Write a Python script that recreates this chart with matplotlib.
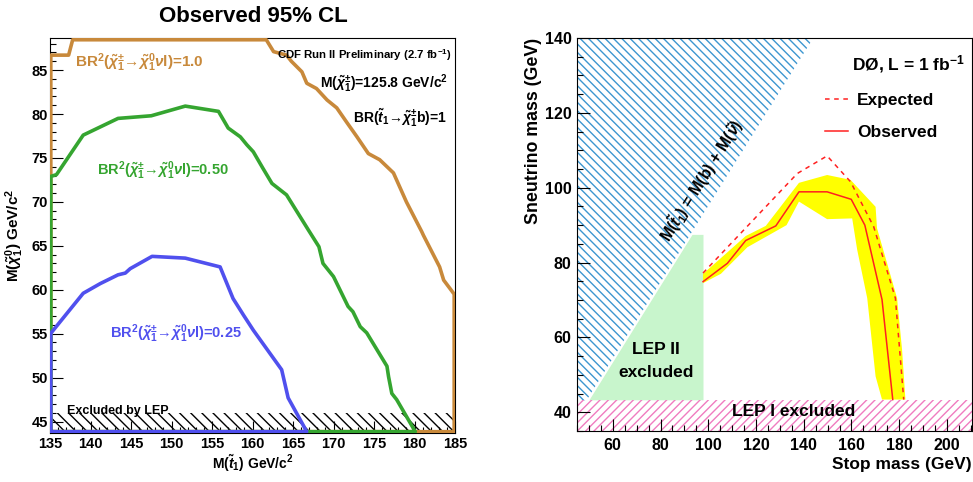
import numpy as np
import matplotlib.pyplot as plt
from matplotlib.ticker import MultipleLocator

# ---- left panel: CDF observed 95% CL contours, M(stop) vs M(chi0)
br100_x = [135.1, 135.1, 137.3, 137.8, 161.7, 162.6, 164.2, 164.8, 166.1, 166.7, 167.9, 169.2, 170.4,
           171.6, 172.9, 174.3, 175.7, 177.4, 179.0, 180.9, 181.1, 183.1, 183.6, 184.9, 184.9, 135.1]
br100_y = [43.85, 86.7, 86.7, 88.45, 88.45, 87.1, 86.7, 86.0, 84.8, 83.5, 82.9, 81.6, 80.7,
           79.1, 77.4, 75.5, 74.8, 73.3, 70.0, 66.6, 66.2, 62.6, 61.1, 59.5, 43.85, 43.85]
br050_x = [135.1, 135.1, 135.8, 139.1, 143.4, 147.5, 151.7, 155.8, 157.0, 158.5, 159.3, 160.1, 161.3,
           162.4, 164.2, 166.9, 168.2, 168.7, 170.0, 171.8, 172.4, 173.3, 174.1, 176.6, 176.8, 177.2,
           177.8, 180.1, 135.1]
br050_y = [43.85, 72.9, 73.1, 77.6, 79.5, 79.8, 80.9, 80.3, 78.4, 77.4, 76.5, 75.7, 73.8,
           72.1, 70.8, 66.8, 64.9, 63.0, 61.5, 58.1, 57.5, 55.8, 55.1, 51.3, 50.1, 48.2,
           47.5, 43.85, 43.85]
br025_x = [135.1, 135.1, 139.1, 141.2, 143.4, 144.3, 144.9, 147.6, 151.7, 156.0, 157.6, 158.9, 160.1,
           163.6, 164.4, 166.7, 135.1]
br025_y = [43.85, 55.05, 59.6, 60.7, 61.7, 61.9, 62.4, 63.8, 63.6, 62.6, 59.0, 57.1, 55.4,
           50.9, 47.7, 43.85, 43.85]
lep_chi0 = 46.0

# ---- right panel: D0 stop -> b l sneutrino
obs_x = [97.8, 108.0, 115.7, 128.3, 138.0, 149.8, 159.9, 165.6, 172.8, 177.3]
obs_y = [74.9, 79.8, 85.9, 89.8, 98.9, 98.9, 96.9, 90.0, 70.1, 43.4]
exp_x = [97.8, 137.3, 149.8, 159.6, 169.3, 178.4, 181.9]
exp_y = [77.2, 103.8, 108.5, 101.6, 89.6, 70.5, 43.4]
band_up_x = [97.8, 105.3, 115.7, 124.1, 138.0, 149.8, 159.6, 170.1, 170.7, 179.1, 181.2, 182.6]
band_up_y = [77.0, 81.2, 87.1, 89.8, 101.3, 103.4, 102.1, 94.9, 89.2, 70.5, 56.7, 43.4]
band_lo_x = [97.8, 105.3, 116.4, 132.8, 138.0, 149.8, 160.3, 162.4, 166.6, 170.1, 172.8]
band_lo_y = [74.5, 77.0, 84.1, 90.0, 96.3, 91.6, 91.8, 83.4, 70.5, 49.6, 43.4]
kin_x = [45, 45, 144, 49]
kin_y = [43.2, 140, 140, 43.2]
lep2_x = [50.2, 93.4, 98.0, 98.0]
lep2_y = [43.2, 87.4, 87.4, 43.2]
lep1_snu = 43.2

plt.rcParams['font.family'] = ['Liberation Sans', 'DejaVu Sans']
plt.rcParams['font.weight'] = 'bold'
plt.rcParams['hatch.linewidth'] = 1.0
plt.rcParams['mathtext.fontset'] = 'custom'
plt.rcParams['mathtext.rm'] = 'Liberation Sans:bold'
plt.rcParams['mathtext.it'] = 'Liberation Sans:italic:bold'
plt.rcParams['mathtext.bf'] = 'Liberation Sans:bold'
plt.rcParams['mathtext.sf'] = 'Liberation Sans:bold'

orange = '#c8893b'
green = '#35a530'
blue = '#5050ee'
br_label = r'BR$^2$($\tilde{\chi}_1^{\pm}$→$\tilde{\chi}_1^0\nu$l)='

fig = plt.figure(figsize=(9.73, 4.82), dpi=100)
ax1 = fig.add_axes([50 / 973, 49 / 482, 405 / 973, 395 / 482])
ax2 = fig.add_axes([577 / 973, 51 / 482, 395 / 973, 393 / 482])

# left
ax1.axhspan(43.0, lep_chi0, facecolor='none', edgecolor='black', lw=0, hatch='\\\\\\', zorder=1)
ax1.plot(br100_x, br100_y, color=orange, lw=2.6, zorder=3)
ax1.plot(br050_x, br050_y, color=green, lw=2.6, zorder=3)
ax1.plot(br025_x, br025_y, color=blue, lw=2.6, zorder=3)
ax1.set_xlim(135, 185)
ax1.set_ylim(43.7, 88.65)
ax1.xaxis.set_major_locator(MultipleLocator(5))
ax1.xaxis.set_minor_locator(MultipleLocator(1))
ax1.yaxis.set_major_locator(MultipleLocator(5))
ax1.yaxis.set_minor_locator(MultipleLocator(1))
ax1.tick_params(which='both', direction='in', width=0.8, labelsize=10.5)
ax1.tick_params(which='major', length=9)
ax1.tick_params(which='minor', length=4.5)
ax1.tick_params(axis='x', pad=2.7)
ax1.tick_params(axis='y', pad=1.5)

fig.text(253 / 973, 1 - 16 / 482, 'Observed 95% CL', ha='center', va='center', fontsize=16)
ax1.text(-0.086, 0.5, r'M($\tilde{\chi}_1^0$) GeV/c$^2$', transform=ax1.transAxes, rotation=90,
         ha='center', va='center', fontsize=11)
ax1.text(0.5, -30 / 395, r'M($\tilde{t}_1$) GeV/c$^2$', transform=ax1.transAxes,
         ha='center', va='center', fontsize=10)
ax1.text(138.1, 85.8, br_label + '1.0', color=orange, ha='left', va='center', fontsize=11)
ax1.text(140.8, 73.6, br_label + '0.50', color=green, ha='left', va='center', fontsize=10.5)
ax1.text(142.4, 55.0, br_label + '0.25', color=blue, ha='left', va='center', fontsize=10.5)
ax1.text(184.6, 86.7, r'CDF Run II Preliminary (2.7 fb$^{-1}$)', ha='right', va='center', fontsize=8.2)
ax1.text(184.1, 83.5, r'M($\tilde{\chi}_1^{\pm}$)=125.8 GeV/c$^2$', ha='right', va='center', fontsize=10)
ax1.text(184.0, 79.5, r'BR($\tilde{t}_1$→$\tilde{\chi}_1^{\pm}$b)=1', ha='right', va='center', fontsize=10)
ax1.text(137.1, 46.2, 'Excluded by LEP', ha='left', va='center', fontsize=9)

# right
ax2.fill(kin_x, kin_y, facecolor='none', edgecolor='#3d96d0', lw=0, hatch='\\\\\\\\', zorder=1)
ax2.fill(lep2_x, lep2_y, facecolor='#c8f5cc', lw=0, zorder=1)
ax2.axhspan(30, lep1_snu, facecolor='none', edgecolor='#f07cc0', lw=0, hatch='////', zorder=1)
ax2.fill(band_up_x + band_lo_x[::-1], band_up_y + band_lo_y[::-1], facecolor='#ffff00', lw=0, zorder=2)
ax2.plot(exp_x, exp_y, color='#ff2020', lw=1.1, ls=(0, (3, 3)), label='Expected', zorder=3)
ax2.plot(obs_x, obs_y, color='#ff2020', lw=1.1, label='Observed', zorder=3)
ax2.set_xlim(45, 210.5)
ax2.set_ylim(35, 140)
ax2.xaxis.set_major_locator(MultipleLocator(20))
ax2.xaxis.set_minor_locator(MultipleLocator(5))
ax2.yaxis.set_major_locator(MultipleLocator(20))
ax2.yaxis.set_minor_locator(MultipleLocator(5))
ax2.set_xticks(np.arange(60, 201, 20))
ax2.tick_params(which='both', direction='in', width=0.8, labelsize=11.5)
ax2.tick_params(which='major', length=9)
ax2.tick_params(which='minor', length=4.5)
ax2.tick_params(axis='x', pad=5)
ax2.tick_params(axis='y', pad=3.8)

ax2.text(-0.111, 1.0, 'Sneutrino mass (GeV)', transform=ax2.transAxes, rotation=90,
         ha='center', va='top', fontsize=12.8)
ax2.text(1.0, -33 / 393, 'Stop mass (GeV)', transform=ax2.transAxes, ha='right', va='center', fontsize=12.5)
ax2.text(0.982, 0.934, r'DØ, L = 1 fb$^{-1}$', transform=ax2.transAxes, ha='right', va='center', fontsize=12.5)
ax2.legend(loc='center left', bbox_to_anchor=(0.628, 0.80), frameon=False, borderpad=0, borderaxespad=0,
           handlelength=1.35, handletextpad=0.5, labelspacing=1.0, fontsize=12.5)
ax2.text(97.4, 102, r'M($\tilde{t}_1$) = M(b) + M($\tilde{\nu}$)', rotation=58, rotation_mode='anchor',
         ha='center', va='center', fontsize=11.5)
ax2.text(78, 56.9, 'LEP II', ha='center', va='center', fontsize=12.5)
ax2.text(78, 50.5, 'excluded', ha='center', va='center', fontsize=12.5)
ax2.text(135.9, 40.1, 'LEP I excluded', ha='center', va='center', fontsize=12.5)

fig.savefig('out.png', dpi=100)
